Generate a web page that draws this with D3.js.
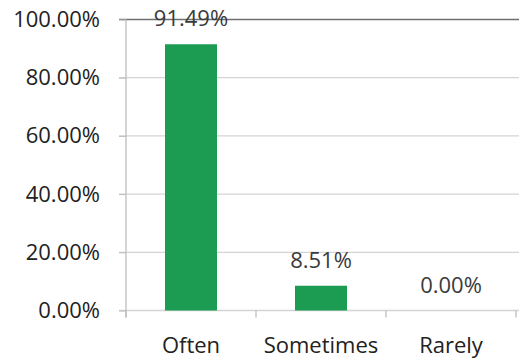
<!DOCTYPE html>
<html>
<head>
<meta charset="utf-8">
<script src="https://cdn.jsdelivr.net/npm/d3@7"></script>
<style>
  html, body { margin: 0; padding: 0; background: #fff; }
  svg { display: block; font-family: "Open Sans", "Noto Sans", sans-serif; }
</style>
</head>
<body>
<svg id="chart" width="519" height="362"></svg>
<script>
// Survey response shares
const categories = ["Often", "Sometimes", "Rarely"];
const shares = [91.49, 8.51, 0.00];
const yTicks = [0, 20, 40, 60, 80, 100];

const svg = d3.select("#chart");
const plotLeft = 126, plotRight = 516, plotTop = 19.5, plotBottom = 310.5;
const fontSize = 22;

const x = d3.scaleBand().domain(categories).range([plotLeft, plotRight]).paddingInner(0.6).paddingOuter(0.3);
const y = d3.scaleLinear().domain([0, 100]).range([plotBottom, plotTop]);
const fmt = v => v.toFixed(2) + "%";

// horizontal gridlines
svg.append("g")
  .selectAll("line")
  .data(yTicks)
  .join("line")
  .attr("x1", plotLeft - 7)
  .attr("x2", 519)
  .attr("y1", d => y(d))
  .attr("y2", d => y(d))
  .attr("stroke", d => d === 100 ? "#6f6f6f" : "#d4d4d4")
  .attr("stroke-width", 1.3);

// y axis
const yAxis = svg.append("g")
  .attr("transform", `translate(${plotLeft},0)`)
  .call(d3.axisLeft(y).tickValues(yTicks).tickFormat(fmt).tickSize(7).tickPadding(19));
yAxis.select(".domain").remove();
yAxis.selectAll(".tick line").attr("stroke", "#bdbdbd");
yAxis.selectAll("text")
  .attr("font-size", fontSize)
  .attr("fill", "#222")
  .attr("font-family", "Open Sans, sans-serif");
svg.append("line")
  .attr("x1", plotLeft).attr("x2", plotLeft)
  .attr("y1", plotTop).attr("y2", plotBottom + 7)
  .attr("stroke", "#bdbdbd").attr("stroke-width", 1.3);

// category boundaries along the baseline
const bounds = [plotLeft].concat(categories.map(c => x(c) + x.bandwidth() + x.step() * 0.3));
svg.append("g")
  .selectAll("line")
  .data(bounds)
  .join("line")
  .attr("x1", d => d).attr("x2", d => d)
  .attr("y1", plotBottom).attr("y2", plotBottom + 7)
  .attr("stroke", "#bdbdbd").attr("stroke-width", 1.3);

// bars
svg.append("g")
  .selectAll("rect")
  .data(shares)
  .join("rect")
  .attr("x", (d, i) => x(categories[i]))
  .attr("width", x.bandwidth())
  .attr("y", d => y(d))
  .attr("height", d => y(0) - y(d))
  .attr("fill", "#1b9c52");

// value labels
svg.append("g")
  .selectAll("text")
  .data(shares)
  .join("text")
  .attr("x", (d, i) => x(categories[i]) + x.bandwidth() / 2)
  .attr("y", d => y(d) - 18)
  .attr("text-anchor", "middle")
  .attr("font-size", fontSize)
  .attr("fill", "#3a3a3a")
  .text(fmt);

// category labels
svg.append("g")
  .selectAll("text")
  .data(categories)
  .join("text")
  .attr("x", d => x(d) + x.bandwidth() / 2)
  .attr("y", 353)
  .attr("text-anchor", "middle")
  .attr("font-size", fontSize)
  .attr("fill", "#222")
  .text(d => d);
</script>
</body>
</html>
